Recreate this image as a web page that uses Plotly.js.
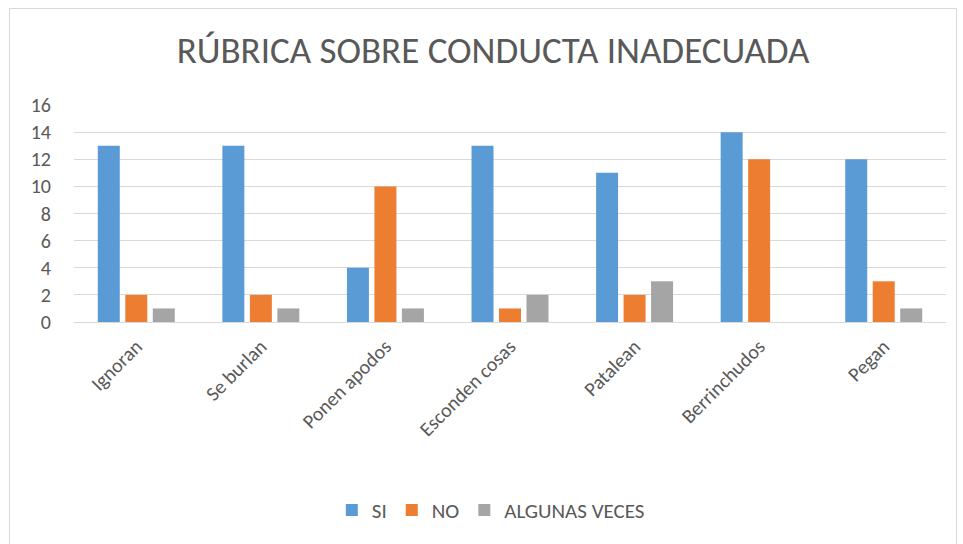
<!DOCTYPE html>
<html>
<head>
<meta charset="utf-8">
<script src="https://cdn.plot.ly/plotly-3.0.1.min.js"></script>
<style>
html,body{margin:0;padding:0;background:#fff;}
#frame{position:absolute;left:9px;top:8px;width:948px;height:545px;border:1px solid #d9d9d9;box-sizing:border-box;}
#chart{position:absolute;left:0;top:0;width:963px;height:544px;}
</style>
</head>
<body>
<div id="frame"></div>
<div id="chart"></div>
<script>
const categories = ["Ignoran","Se burlan","Ponen apodos","Esconden cosas","Patalean","Berrinchudos","Pegan"];
const siValues = [13,13,4,13,11,14,12];
const noValues = [2,2,10,1,2,12,3];
const algunasValues = [1,1,1,2,3,0,1];
const seriesNames = ["SI","NO","ALGUNAS VECES"];
const yTicks = [0,2,4,6,8,10,12,14,16];

const colors = ["#5b9bd5","#ed7d31","#a5a5a5"];
const font = "Carlito, Lato, 'Open Sans', sans-serif";

const traces = [siValues, noValues, algunasValues].map((v,i)=>({
  type:"bar", x:categories, y:v, name:seriesNames[i],
  marker:{color:colors[i]}, hoverinfo:"x+y+name"
}));

const layout = {
  width:963, height:544,
  paper_bgcolor:"rgba(0,0,0,0)", plot_bgcolor:"rgba(0,0,0,0)",
  margin:{l:74,r:17,t:105,b:222},
  font:{family:font, color:"#595959", size:20},
  title:{text:"RÚBRICA SOBRE CONDUCTA INADECUADA", font:{family:font,size:37,color:"#595959",weight:300}, x:0.512, xanchor:"center", y:0.908, yanchor:"middle"},
  bargap:0.338, bargroupgap:0.2,
  xaxis:{type:"category", tickangle:-45, showgrid:false, showline:true, linecolor:"#d9d9d9", linewidth:1, ticks:"", ticklabelstandoff:4, tickfont:{size:20,color:"#595959"}, fixedrange:true},
  yaxis:{range:[0,16], tickvals:yTicks, ticktext:yTicks.map(String), showgrid:true, gridcolor:"#d9d9d9", gridwidth:1, zeroline:false, showline:false, ticks:"", ticklabelstandoff:22, tickfont:{size:20,color:"#595959"}, fixedrange:true},
  legend:{orientation:"h", x:0.478, xanchor:"center", y:-0.868, yanchor:"middle", font:{size:21,color:"#595959"}, itemwidth:30, traceorder:"normal"},
  showlegend:true
};

Plotly.newPlot("chart", traces, layout, {displayModeBar:false, responsive:false});
</script>
</body>
</html>
